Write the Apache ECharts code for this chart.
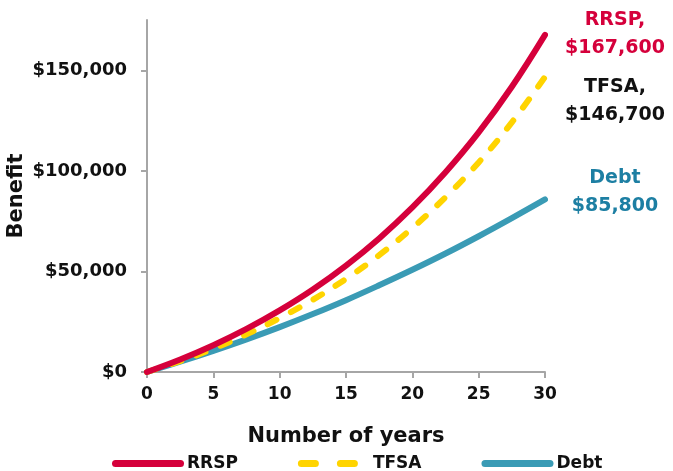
<!DOCTYPE html>
<html>
<head>
<meta charset="utf-8">
<script src="https://cdn.jsdelivr.net/npm/echarts@6/dist/echarts.min.js"></script>
<style>
html,body{margin:0;padding:0;background:#fff;}
#c{width:673px;height:471px;}
</style>
</head>
<body>
<div id="c"></div>
<script>
const years = [0, 2.5, 5, 7.5, 10, 12.5, 15, 17.5, 20, 22.5, 25, 27.5, 30];
const rrsp  = [0, 6200, 13300, 21400, 30600, 41000, 52900, 66400, 81800, 99300, 119100, 141800, 167600];
const tfsa  = [0, 5400, 11600, 18700, 26800, 35900, 46300, 58100, 71600, 86900, 104200, 124100, 146700];
const debt  = [0, 5100, 10500, 16200, 22300, 28800, 35700, 43100, 50800, 58900, 67500, 76500, 85800];
const seriesNames = ['RRSP', 'TFSA', 'Debt'];
const endTitles = ['RRSP,', 'TFSA,', 'Debt'];
const yTicks = [0, 50000, 100000, 150000];
const xTicks = [0, 5, 10, 15, 20, 25, 30];

const FONT = 'DejaVu Sans';
const lineColors = ['#d5003b', '#ffd400', '#3a9bb5'];
const labelColors = ['#d5003b', '#111111', '#1d7fa3'];
const labelOffsets = [[70, -1], [70, 24], [70, -7]];
const legendIcons = [
  'path://M3.5,0H68.5A3.5,3.5,0,0,1,68.5,7H3.5A3.5,3.5,0,0,1,3.5,0Z',
  'path://M3.5,0H17.5A3.5,3.5,0,0,1,17.5,7H3.5A3.5,3.5,0,0,1,3.5,0Z M42.5,0H56.5A3.5,3.5,0,0,1,56.5,7H42.5A3.5,3.5,0,0,1,42.5,0Z M71.9,3.5H72V3.6H71.9Z',
  'path://M3.5,0H68.5A3.5,3.5,0,0,1,68.5,7H3.5A3.5,3.5,0,0,1,3.5,0Z'
];
const fmtMoney = v => '$' + Math.round(v).toLocaleString('en-US');

function pairs(vals){ return years.map((x,i)=>[x, vals[i]]); }
const allVals = [rrsp, tfsa, debt];

const chart = echarts.init(document.getElementById('c'), null, {renderer:'canvas'});
chart.setOption({
  animation: false,
  backgroundColor: '#fff',
  textStyle: {fontFamily: FONT},
  grid: {left: 147, right: 128, top: 20, bottom: 99, containLabel: false, outerBoundsMode: 'none'},
  legend: {
    top: 450, left: 107,
    itemWidth: 72, itemHeight: 7, itemGap: 60,
    symbolKeepAspect: false,
    textStyle: {fontFamily: FONT, fontSize: 17, fontWeight: 'bold', color: '#111', padding: [0,0,0,-2]},
    data: seriesNames.map((n,i) => ({name: n, icon: legendIcons[i], itemStyle: {color: lineColors[i]}}))
  },
  xAxis: {
    type: 'value', min: 0, max: 30, interval: 5,
    name: 'Number of years', nameLocation: 'middle', nameGap: 54, nameMoveOverlap: false,
    nameTextStyle: {fontFamily: FONT, fontSize: 21, fontWeight: 'bold', color: '#111'},
    axisLine: {lineStyle: {color: '#a6a6a6', width: 2}},
    axisTick: {show: true, length: 6, lineStyle: {color: '#a6a6a6', width: 2}, customValues: xTicks},
    axisLabel: {fontFamily: FONT, fontSize: 17, fontWeight: 'bold', color: '#111', margin: 14, customValues: xTicks},
    splitLine: {show: false}
  },
  yAxis: {
    type: 'value', min: 0, max: 175000,
    name: 'Benefit', nameLocation: 'middle', nameGap: 120, nameMoveOverlap: false,
    nameTextStyle: {fontFamily: FONT, fontSize: 21, fontWeight: 'bold', color: '#111'},
    axisLine: {show: true, lineStyle: {color: '#a6a6a6', width: 2}},
    axisTick: {show: true, length: 6, lineStyle: {color: '#a6a6a6', width: 2}, customValues: yTicks},
    axisLabel: {fontFamily: FONT, fontSize: 18, fontWeight: 'bold', color: '#111', margin: 20, formatter: fmtMoney, customValues: yTicks},
    splitLine: {show: false}
  },
  series: seriesNames.map((n, i) => ({
    name: n, type: 'line', smooth: 0.4, symbol: 'none',
    data: pairs(allVals[i]),
    lineStyle: {color: lineColors[i], width: 6, type: i === 1 ? [10, 16] : 'solid', cap: 'round'},
    itemStyle: {color: lineColors[i]},
    z: 3 - i,
    endLabel: {
      show: true, distance: 0, align: 'center', verticalAlign: 'middle',
      offset: labelOffsets[i],
      fontFamily: FONT, fontSize: 19, fontWeight: 'bold', lineHeight: 28, color: labelColors[i],
      formatter: p => endTitles[i] + '\n' + fmtMoney(allVals[i][allVals[i].length-1])
    }
  }))
});
</script>
</body>
</html>
